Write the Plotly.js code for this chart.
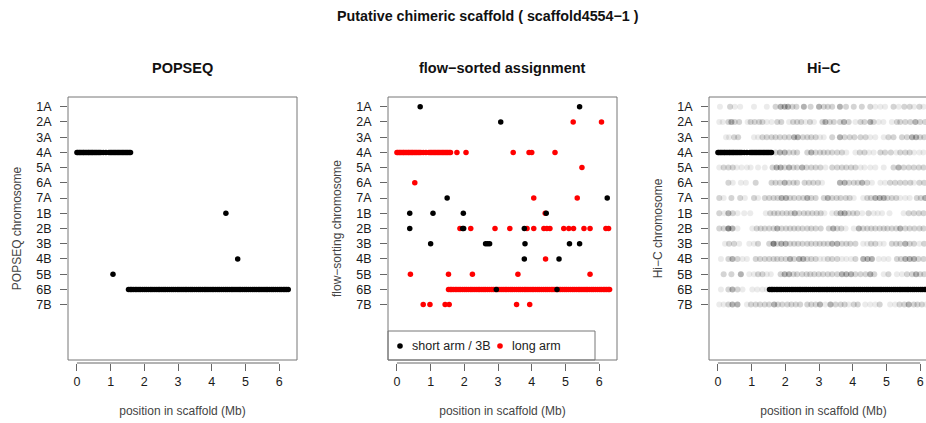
<!DOCTYPE html>
<html><head><meta charset="utf-8">
<script src="https://cdn.plot.ly/plotly-3.0.1.min.js"></script>
<style>html,body{margin:0;padding:0;overflow:hidden;background:#fff}#chart{width:976px;height:423px}</style>
</head><body><div id="chart"></div>
<script>
// ---------------- data ----------------
const chromosomes = ['1A','2A','3A','4A','5A','6A','7A','1B','2B','3B','4B','5B','6B','7B'];
const xTicks = [0,1,2,3,4,5,6];

// dense marker runs on 4A (start of scaffold) and 6B (rest of scaffold), in Mb
const dense4A = [0.00,0.03,0.07,0.10,0.14,0.18,0.21,0.25,0.29,0.33,0.36,0.40,0.44,0.47,0.51,0.55,0.59,0.63,0.67,0.71,0.78,0.86,0.95,0.99,1.03,1.07,1.11,1.15,1.19,1.23,1.27,1.31,1.35,1.39,1.43,1.47,1.51,1.55,1.59];
const dense6B = [1.53,1.58,1.62,1.67,1.73,1.78,1.84,1.89,1.95,2.01,2.06,2.12,2.18,2.23,2.29,2.35,2.41,2.46,2.52,2.58,2.63,2.69,2.75,2.81,2.86,2.92,2.98,3.03,3.09,3.15,3.21,3.26,3.32,3.38,3.43,3.49,3.55,3.61,3.66,3.72,3.78,3.83,3.89,3.95,4.01,4.06,4.12,4.18,4.23,4.29,4.35,4.41,4.46,4.52,4.58,4.63,4.69,4.75,4.81,4.86,4.92,4.98,5.03,5.09,5.15,5.21,5.26,5.32,5.38,5.43,5.49,5.55,5.61,5.66,5.72,5.78,5.83,5.89,5.95,6.01,6.06,6.12,6.17,6.22,6.27];

// POPSEQ isolated markers
const popseqOtherX   = [1.07, 4.42, 4.77];
const popseqOtherChr = ['5B', '1B', '4B'];

// flow-sorted: short arm / 3B (black)
const flowShortX   = [0.69,5.42, 3.08, 1.49,6.24, 0.38,1.07,1.97,4.43, 0.38,1.95,1.98,3.78, 1.00,2.63,2.69,2.75,3.80,5.12,5.42, 3.78,4.81, 2.95,4.75];
const flowShortChr = ['1A','1A','2A','7A','7A','1B','1B','1B','1B','2B','2B','2B','2B','3B','3B','3B','3B','3B','3B','3B','4B','4B','6B','6B'];

// flow-sorted: long arm (red), besides the dense 4A / 6B runs
const flowLongX   = [5.23,6.07, 1.78,2.05,3.45,3.92,4.00,4.69, 5.49, 0.53, 4.06,5.35, 4.40,
  1.87,2.19,2.91,3.35,3.86,4.06,4.36,4.45,4.54,4.95,5.10,5.24,5.55,5.73,6.20,6.28,
  4.41, 0.40,1.53,2.24,3.59,5.73, 6.31, 0.78,0.98,1.43,1.55,3.55,3.94];
const flowLongChr = ['2A','2A','4A','4A','4A','4A','4A','4A','5A','6A','7A','7A','1B',
  '2B','2B','2B','2B','2B','2B','2B','2B','2B','2B','2B','2B','2B','2B','2B','2B',
  '4B','5B','5B','5B','5B','5B','6B','7B','7B','7B','7B','7B','7B'];

// Hi-C contacts: positions (Mb) and relative strength (1 weak .. 4 strong) per chromosome row
const hic1A = [0.06,0.36,0.50,0.66,1.07,1.45,1.71,1.86,1.98,2.08,2.21,2.33,2.55,2.75,3.00,3.14,3.26,3.39,3.62,3.80,4.03,4.27,4.52,4.67,4.82,4.96,5.21,5.36,5.53,5.69,5.82,5.98,6.10];
const hic1Aw = [1,2,1,1,1,1,2,3,3,3,2,2,3,2,3,2,2,2,3,2,2,2,2,1,1,1,2,1,2,2,1,2,1];
const hic2A = [0.04,0.14,0.31,0.40,0.50,0.63,0.88,0.97,1.09,1.22,1.32,1.45,1.59,1.76,1.88,2.11,2.23,2.35,2.47,2.60,2.73,2.85,3.10,3.19,3.32,3.44,3.62,3.74,3.88,4.08,4.23,4.35,4.52,4.62,4.77,4.91,5.16,5.31,5.41,5.56,5.71,5.86,6.00,6.15];
const hic2Aw = [1,1,2,3,2,2,1,2,2,2,2,1,1,2,2,1,2,2,2,1,2,1,2,3,2,2,2,3,2,1,2,2,3,2,1,1,1,2,2,2,2,3,2,2];
const hic3A = [0.24,0.33,0.48,0.60,1.07,1.19,1.32,1.45,1.59,1.71,1.84,1.98,2.11,2.26,2.37,2.52,2.65,2.77,2.90,3.03,3.14,3.39,3.62,3.76,3.91,4.05,4.23,4.38,4.52,4.67,4.92,5.06,5.21,5.46,5.61,5.76,5.88,6.00,6.12];
const hic3Aw = [1,1,2,2,1,1,2,2,2,2,2,2,2,3,3,2,2,2,2,1,1,2,3,2,2,2,2,2,1,1,1,2,2,2,2,3,3,2,2];
const hic4A = [1.71,1.84,1.98,2.11,2.24,2.35,2.65,2.77,2.90,3.03,3.14,3.26,3.39,3.54,3.68,3.81,4.08,4.21,4.35,4.48,4.62,4.82,4.96,5.13,5.29,5.41,5.56,5.69,5.82,5.98,6.10];
const hic4Aw = [2,3,3,2,2,2,2,3,2,2,2,2,2,2,2,1,1,2,2,1,1,2,2,2,1,2,2,2,1,1,1];
const hic5A = [0.04,0.17,0.31,0.44,0.56,0.70,0.86,0.97,1.19,1.39,1.62,1.74,1.86,1.98,2.11,2.24,2.35,2.50,2.63,2.77,2.90,3.04,3.19,3.39,3.54,3.68,3.81,3.95,4.08,4.23,4.35,4.52,4.67,4.92,5.21,5.36,5.51,5.66,5.81,5.96,6.10];
const hic5Aw = [1,2,2,2,1,1,1,1,1,1,2,3,3,2,3,2,2,3,2,2,2,2,1,2,2,2,2,2,2,1,1,1,1,1,2,3,2,2,2,2,2];
const hic6A = [0.31,0.44,0.68,0.83,1.12,1.59,1.71,1.84,1.98,2.11,2.24,2.35,2.57,2.70,2.83,2.97,3.09,3.62,3.76,3.89,4.03,4.15,4.28,4.43,4.57,4.82,4.96,5.11,5.26,5.41,5.56,5.71,5.82,5.98,6.12];
const hic6Aw = [2,1,1,1,2,2,2,2,3,2,2,2,2,2,2,2,1,3,3,2,2,2,3,2,1,1,1,2,2,2,2,2,1,2,2];
const hic7A = [0.04,0.17,0.40,0.66,0.80,1.07,1.19,1.39,1.52,1.65,1.77,1.89,2.02,2.14,2.26,2.40,2.53,2.65,2.77,2.90,3.14,3.26,3.39,3.52,3.64,3.79,3.91,4.03,4.31,4.43,4.54,4.67,4.80,4.92,5.03,5.16,5.29,5.41,5.56,5.69,5.90,6.02,6.15];
const hic7Aw = [2,1,2,2,1,2,1,2,2,2,2,3,3,2,2,2,2,3,2,2,2,3,2,2,2,2,2,1,1,2,2,3,3,3,2,2,2,1,1,1,2,2,3];
const hic1B = [0.04,0.19,0.31,0.44,0.58,0.78,0.96,1.42,1.55,1.67,1.78,1.91,2.04,2.16,2.28,2.41,2.55,2.67,2.80,2.93,3.05,3.16,3.39,3.52,3.64,3.76,3.88,4.01,4.13,4.28,4.47,4.62,4.74,4.87,5.09,5.51,5.66,5.81,5.96,6.10];
const hic1Bw = [2,1,3,2,1,1,1,1,2,2,2,2,2,2,3,2,2,2,2,2,2,1,1,2,3,3,2,2,2,1,2,1,1,1,1,1,2,2,2,2];
const hic2B = [0.04,0.17,0.31,0.43,0.58,1.02,1.15,1.27,1.39,1.52,1.65,1.76,1.89,2.02,2.14,2.26,2.38,2.51,2.65,2.77,2.90,3.05,3.29,3.42,3.54,3.66,3.79,4.03,4.18,4.31,4.43,4.55,4.67,4.80,4.92,5.03,5.16,5.29,5.41,5.56,5.69,5.83,5.98,6.10];
const hic2Bw = [2,2,4,3,1,1,2,2,2,2,2,3,2,2,2,2,2,2,2,2,2,2,2,3,2,2,1,1,3,2,2,2,2,2,2,2,2,2,3,2,2,2,2,2];
const hic3B = [0.21,0.33,0.48,0.63,0.93,1.07,1.19,1.52,1.65,1.76,1.88,2.01,2.14,2.26,2.38,2.51,2.65,2.77,2.90,3.02,3.14,3.26,3.39,3.54,3.68,3.81,3.93,4.08,4.31,4.43,4.54,4.67,4.80,4.92,5.16,5.29,5.41,5.56,5.69,5.82,5.98,6.12];
const hic3Bw = [1,2,2,1,1,1,2,2,4,2,3,3,2,2,2,2,2,2,2,2,2,2,3,3,2,2,2,2,1,1,2,2,1,1,2,2,2,3,2,2,1,2];
const hic4B = [0.09,0.31,0.43,0.58,0.73,0.86,1.12,1.25,1.39,1.52,1.65,1.76,1.88,2.01,2.14,2.26,2.41,2.53,2.65,2.77,2.90,3.03,3.14,3.26,3.39,3.54,3.68,3.81,3.95,4.08,4.31,4.44,4.57,4.77,4.92,5.06,5.31,5.43,5.56,5.69,5.82,5.95,6.10];
const hic4Bw = [1,2,3,2,1,1,2,2,2,2,2,2,2,2,3,2,3,3,2,2,2,1,1,2,2,2,1,1,1,2,3,3,3,1,1,1,2,2,3,3,3,2,2];
const hic5B = [0.17,0.40,0.68,0.93,1.07,1.19,1.32,1.45,1.57,1.86,1.98,2.11,2.24,2.35,2.50,2.63,2.74,2.86,2.99,3.12,3.26,3.39,3.54,3.68,3.81,3.95,4.08,4.23,4.38,4.52,4.64,4.92,5.06,5.31,5.46,5.61,5.76,5.88,6.00,6.12];
const hic5Bw = [2,2,3,1,1,2,2,1,1,2,3,3,2,2,2,2,2,2,2,2,2,2,2,3,3,3,2,2,2,3,2,1,2,1,1,2,2,3,2,2];
const hic6B = [0.09,0.31,0.43,0.58,0.73,1.02,1.17,1.32,1.45];
const hic6Bw = [1,2,3,2,1,1,1,1,1];
const hic7B = [0.04,0.17,0.31,0.43,0.58,0.86,0.98,1.12,1.25,1.39,1.52,1.67,1.78,1.91,2.06,2.18,2.31,2.44,2.65,2.77,2.90,3.03,3.19,3.34,3.49,3.64,3.76,3.88,4.03,4.15,4.37,4.52,4.67,4.80,5.11,5.26,5.39,5.53,5.66,5.81,5.92,6.05,6.18];
const hic7Bw = [1,1,2,3,3,1,2,2,2,2,2,3,2,2,2,2,2,2,2,2,2,3,1,3,2,2,2,1,2,2,1,1,1,2,1,1,2,2,3,2,2,2,1];

// ---------------- build ----------------
const W = 976, H = 423;
const panels = [[68,297],[388,617],[709,938]];
const boxTop = 97, boxBot = 360, axisLineY = 363;
const px = v => v / W, py = v => 1 - v / H;
const xRange = [-0.265, 6.53];
const yRange = [16.64, -0.64];
const MS = 5.5;

const rep = (arr, lab) => arr.map(() => lab);
const traces = [];
// POPSEQ
traces.push({type:'scatter', mode:'markers', xaxis:'x', yaxis:'y',
  x: [...dense4A, ...popseqOtherX, ...dense6B],
  y: [...rep(dense4A,'4A'), ...popseqOtherChr, ...rep(dense6B,'6B')],
  marker:{size:MS, color:'#000', line:{width:0}}, showlegend:false, hoverinfo:'skip'});
// flow-sorted
traces.push({type:'scatter', mode:'markers', xaxis:'x2', yaxis:'y2', name:'long arm',
  x: [...dense4A, ...flowLongX, ...dense6B],
  y: [...rep(dense4A,'4A'), ...flowLongChr, ...rep(dense6B,'6B')],
  marker:{size:MS, color:'#ff0000', line:{width:0}}, showlegend:false, hoverinfo:'skip'});
traces.push({type:'scatter', mode:'markers', xaxis:'x2', yaxis:'y2', name:'short arm / 3B',
  x: flowShortX, y: flowShortChr,
  marker:{size:MS, color:'#000', line:{width:0}}, showlegend:false, hoverinfo:'skip'});
// Hi-C
const hicRows = [[hic1A,hic1Aw,'1A'],[hic2A,hic2Aw,'2A'],[hic3A,hic3Aw,'3A'],[hic4A,hic4Aw,'4A'],[hic5A,hic5Aw,'5A'],[hic6A,hic6Aw,'6A'],[hic7A,hic7Aw,'7A'],
  [hic1B,hic1Bw,'1B'],[hic2B,hic2Bw,'2B'],[hic3B,hic3Bw,'3B'],[hic4B,hic4Bw,'4B'],[hic5B,hic5Bw,'5B'],[hic6B,hic6Bw,'6B'],[hic7B,hic7Bw,'7B']];
const opac = {1:0.08, 2:0.17, 3:0.3, 4:0.46};
const hx=[], hy=[], ho=[];
hicRows.forEach(([xs, ws, lab]) => xs.forEach((v,i) => { hx.push(v); hy.push(lab); ho.push(opac[ws[i]||2]); }));
traces.push({type:'scatter', mode:'markers', xaxis:'x3', yaxis:'y3', x:hx, y:hy,
  marker:{size:MS+0.5, color:'#000', opacity:ho, line:{width:0}}, showlegend:false, hoverinfo:'skip'});
traces.push({type:'scatter', mode:'markers', xaxis:'x3', yaxis:'y3',
  x:[...dense4A, ...dense6B], y:[...rep(dense4A,'4A'), ...rep(dense6B,'6B')],
  marker:{size:MS, color:'#000', line:{width:0}}, showlegend:false, hoverinfo:'skip'});

const font = {family:'Liberation Sans, Arial, sans-serif', size:12, color:'#222'};
const yTitles = ['POPSEQ chromosome','flow\u2212sorting chromosome','Hi\u2212C chromosome'];
const panelTitles = ['POPSEQ','flow\u2212sorted assignment','Hi\u2212C'];
const layout = {width:W, height:H, margin:{l:0,r:0,t:0,b:0}, paper_bgcolor:'#fff', plot_bgcolor:'rgba(0,0,0,0)',
  font:font, showlegend:false, shapes:[], annotations:[]};

panels.forEach(([l,r], i) => {
  const s = i===0 ? '' : String(i+1);
  layout['xaxis'+s] = {domain:[px(l),px(r)], range:xRange, anchor:'free', position:py(axisLineY),
    tickvals:xTicks, ticks:'outside', ticklen:7, tickcolor:'#666', tickwidth:1,
    showgrid:false, zeroline:false, showline:false, tickfont:{size:12.5,color:'#1a1a1a'},
    title:{text:'position in scaffold (Mb)', font:{size:12,color:'#444'}, standoff:18}};
  layout['yaxis'+s] = {domain:[py(boxBot),py(boxTop)], anchor:'x'+s, type:'category',
    categoryorder:'array', categoryarray:chromosomes, range:yRange,
    ticks:'outside', ticklen:7, tickcolor:'#666', tickwidth:1, ticklabelstandoff:6,
    showgrid:false, zeroline:false, showline:false, tickfont:{size:12.5,color:'#1a1a1a'},
    title:{text:yTitles[i], font:{size:12,color:'#444'}, standoff:12}};
  layout.shapes.push({type:'rect', xref:'paper', yref:'paper', x0:px(l), x1:px(r), y0:py(boxBot), y1:py(boxTop),
    line:{color:'#777', width:1}});
  layout.shapes.push({type:'line', xref:'x'+s, yref:'paper', x0:xTicks[0], x1:xTicks[xTicks.length-1],
    y0:py(axisLineY), y1:py(axisLineY), line:{color:'#666', width:1}});
  layout.annotations.push({text:'<b>'+panelTitles[i]+'</b>', xref:'paper', yref:'paper', x:px((l+r)/2), y:py(68),
    xanchor:'center', yanchor:'middle', showarrow:false, font:{size:14.5,color:'#111'}});
});

// main title
layout.annotations.push({text:'<b>Putative chimeric scaffold ( scaffold4554\u22121 )</b>', xref:'paper', yref:'paper',
  x:px(488), y:py(16), xanchor:'center', yanchor:'middle', showarrow:false, font:{size:14.3,color:'#111'}});

// legend (flow-sorted panel)
layout.shapes.push({type:'rect', xref:'paper', yref:'paper', x0:px(388), x1:px(595), y0:py(360), y1:py(331),
  line:{color:'#777', width:1}, fillcolor:'#fff', layer:'below'});
[[400,'#000','short arm / 3B'],[500,'#ff0000','long arm']].forEach(([xp,col,txt]) => {
  layout.shapes.push({type:'circle', xref:'paper', yref:'paper', xsizemode:'pixel', ysizemode:'pixel',
    xanchor:px(xp), yanchor:py(346), x0:-2.8, x1:2.8, y0:-2.8, y1:2.8, fillcolor:col, line:{width:0}});
  layout.annotations.push({text:txt, xref:'paper', yref:'paper', x:px(xp+10), y:py(346), xanchor:'left', yanchor:'middle',
    showarrow:false, font:{size:12.5,color:'#222'}});
});

Plotly.newPlot('chart', traces, layout, {staticPlot:true, displayModeBar:false});
</script></body></html>
